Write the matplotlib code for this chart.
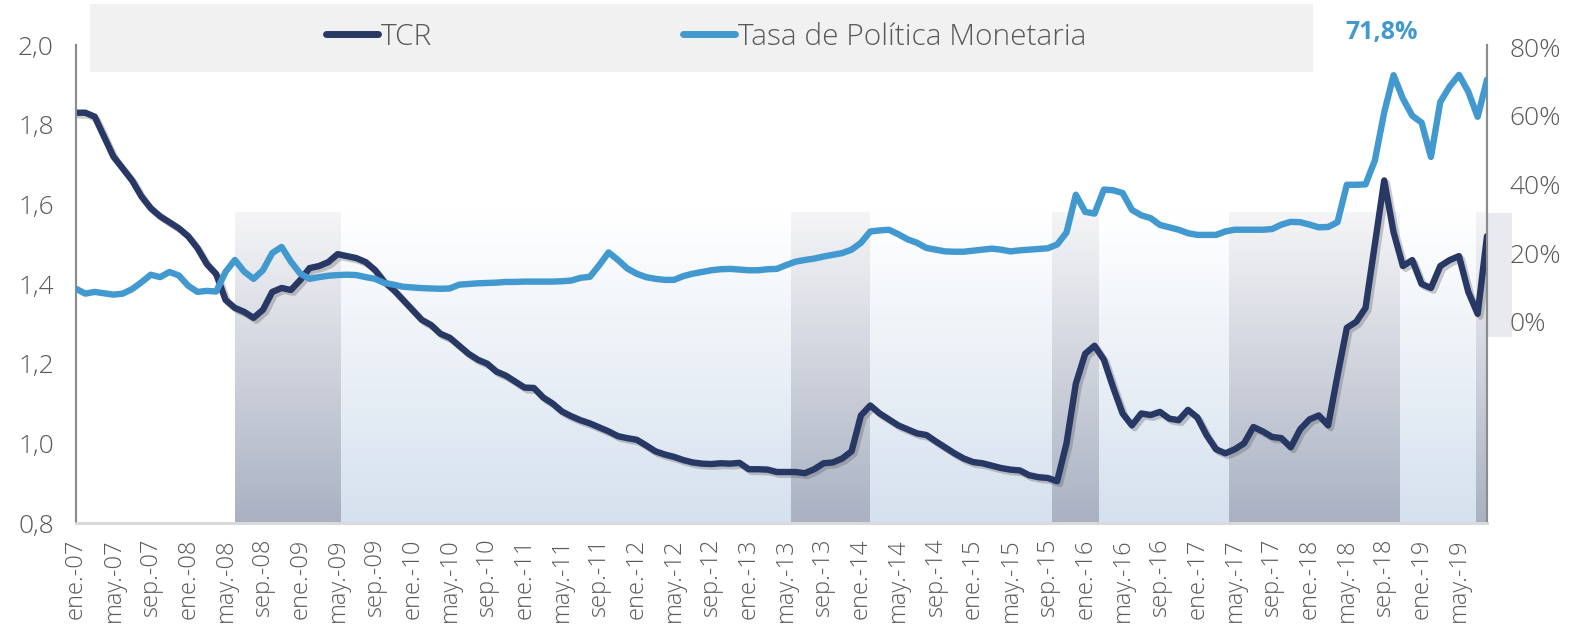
import numpy as np
import matplotlib
matplotlib.use("Agg")
import matplotlib.pyplot as plt
import matplotlib.patheffects as pe
from matplotlib.colors import LinearSegmentedColormap
from matplotlib.lines import Line2D
from matplotlib.patches import Rectangle

plt.rcParams['font.family'] = ['Open Sans', 'DejaVu Sans']
plt.rcParams['font.weight'] = 300

# Datos mensuales: ene-07 a ago-19 (índice de mes 0..151)
tcr = [1.83, 1.83, 1.82, 1.77, 1.72, 1.69, 1.66, 1.62, 1.59, 1.57,
       1.555, 1.54, 1.52, 1.49, 1.45, 1.425, 1.36, 1.34, 1.33, 1.315,
       1.335, 1.38, 1.39, 1.385, 1.41, 1.44, 1.445, 1.455, 1.475, 1.47,
       1.465, 1.455, 1.435, 1.405, 1.385, 1.36, 1.335, 1.31, 1.297, 1.275,
       1.265, 1.245, 1.225, 1.21, 1.2, 1.18, 1.17, 1.155, 1.14, 1.139,
       1.115, 1.1, 1.08, 1.068, 1.058, 1.05, 1.04, 1.03, 1.018, 1.013,
       1.009, 0.995, 0.98, 0.972, 0.966, 0.958, 0.952, 0.949, 0.948, 0.95,
       0.949, 0.951, 0.935, 0.935, 0.934, 0.928, 0.928, 0.928, 0.925, 0.935,
       0.95, 0.952, 0.962, 0.98, 1.07, 1.095, 1.075, 1.06, 1.045, 1.035,
       1.025, 1.021, 1.005, 0.99, 0.975, 0.962, 0.953, 0.95, 0.944, 0.938,
       0.934, 0.932, 0.92, 0.915, 0.913, 0.905, 1.0, 1.15, 1.225, 1.245,
       1.21, 1.14, 1.075, 1.045, 1.075, 1.071, 1.079, 1.062, 1.058, 1.084,
       1.065, 1.02, 0.985, 0.975, 0.985, 1.0, 1.041, 1.03, 1.016, 1.013,
       0.99, 1.035, 1.06, 1.07, 1.045, 1.17, 1.29, 1.305, 1.34, 1.5,
       1.66, 1.53, 1.445, 1.46, 1.40, 1.39, 1.445, 1.46, 1.47, 1.38,
       1.325, 1.52]

tpm = [9.6, 8.2, 8.7, 8.3, 7.9, 8.2, 9.5, 11.5, 13.7, 13.0,
       14.5, 13.5, 10.5, 8.7, 9.0, 8.8, 14.5, 18.0, 14.6, 12.5,
       15.0, 20.0, 21.8, 17.5, 14.0, 12.5, 13.0, 13.4, 13.6, 13.7,
       13.6, 13.0, 12.5, 11.3, 10.8, 10.2, 10.0, 9.8, 9.7, 9.6,
       9.7, 10.8, 11.0, 11.2, 11.3, 11.4, 11.6, 11.6, 11.7, 11.7,
       11.7, 11.7, 11.8, 12.0, 12.8, 13.1, 16.5, 20.2, 18.0, 15.5,
       14.0, 13.0, 12.5, 12.2, 12.2, 13.3, 14.0, 14.5, 15.0, 15.3,
       15.4, 15.2, 15.0, 15.0, 15.3, 15.4, 16.5, 17.5, 18.0, 18.4,
       19.0, 19.5, 20.0, 21.0, 23.0, 26.3, 26.6, 26.8, 25.5, 24.0,
       23.0, 21.5, 21.0, 20.5, 20.4, 20.4, 20.7, 21.0, 21.3, 21.0,
       20.5, 20.8, 21.0, 21.2, 21.4, 22.5, 26.0, 37.0, 32.0, 31.5,
       38.5, 38.3, 37.5, 32.6, 31.0, 30.2, 28.2, 27.5, 26.8, 25.8,
       25.3, 25.3, 25.3, 26.3, 26.8, 26.8, 26.8, 26.8, 27.0, 28.3,
       29.1, 29.0, 28.3, 27.5, 27.6, 29.0, 39.9, 39.9, 40.0, 47.0,
       61.0, 71.8, 65.0, 60.0, 58.0, 48.0, 64.0, 68.5, 71.9, 67.0,
       59.7, 70.5]

meses = np.arange(len(tcr))

# Períodos sombreados (en índice de mes)
bandas = [(17.0, 28.3), (76.5, 84.9), (104.4, 109.4), (123.4, 141.6), (149.8, 151.0)]

abrev = ['ene.', 'may.', 'sep.']
etiquetas = [f"{abrev[(m // 4) % 3]}-{7 + m // 12:02d}" for m in range(0, 152, 4)]

navy = '#273864'
azul = '#4299cf'
gris_txt = '#595959'

fig = plt.figure(figsize=(15.71, 6.34), dpi=100)
ax = fig.add_axes([76 / 1571, 1 - 523 / 634, (1487 - 76) / 1571, (523 - 45) / 634])
ax2 = ax.twinx()


def degradado(x0, x1, y0, y1, c_abajo, c_arriba):
    cmap = LinearSegmentedColormap.from_list('g', [c_abajo, c_arriba])
    ax.imshow(np.linspace(0, 1, 256).reshape(-1, 1), extent=[x0, x1, y0, y1],
              origin='lower', aspect='auto', cmap=cmap, zorder=0)


degradado(bandas[0][1], meses[-1], 0.8, 1.58, '#d5e1ee', '#ffffff')
for a, b in bandas:
    degradado(a, b, 0.8, 1.58, '#a9b1c2', '#f5f5f7')

ax.plot(meses, tcr, color=navy, lw=4.6, solid_capstyle='round', solid_joinstyle='round', zorder=3,
        path_effects=[pe.SimpleLineShadow(offset=(2, -2), shadow_color='#555555', alpha=0.3),
                      pe.Normal()])
ax2.plot(meses, tpm, color=azul, lw=4.6, solid_capstyle='round', solid_joinstyle='round', zorder=3)

ax.set_xlim(0, meses[-1])
ax.set_ylim(0.8, 2.0)
ax2.set_ylim(-58.6, 80.6)

ax.set_yticks(np.arange(0.8, 2.01, 0.2))
ax.set_yticklabels([f"{v:.1f}".replace('.', ',') for v in np.arange(0.8, 2.01, 0.2)])
ax2.set_yticks([0, 20, 40, 60, 80])
ax2.set_yticklabels([f"{v}%" for v in [0, 20, 40, 60, 80]])
ax.set_xticks(range(0, 152, 4))
ax.set_xticklabels(etiquetas, rotation=90)

ax.tick_params(axis='y', length=0, pad=16, labelsize=19, labelcolor=gris_txt)
ax.tick_params(axis='x', length=0, pad=11, labelsize=17, labelcolor=gris_txt)
ax2.tick_params(axis='y', length=0, pad=16, labelsize=19, labelcolor=gris_txt)

for a in (ax, ax2):
    a.spines['top'].set_visible(False)
    a.spines['left'].set_color('#8c8c8c')
    a.spines['right'].set_color('#8c8c8c')
    a.spines['left'].set_linewidth(1.5)
    a.spines['right'].set_linewidth(1.5)
    a.spines['bottom'].set_color('#d9d9d9')
    a.spines['bottom'].set_linewidth(2)
ax2.patch.set_visible(False)

# recuadro gris detrás de la etiqueta 0%
fig.add_artist(Rectangle((1475 / 1571, 1 - 337 / 634), 37 / 1571, 124 / 634,
                         transform=fig.transFigure, facecolor='#e9eaee',
                         edgecolor='none', zorder=-1))

# leyenda
fig.add_artist(Rectangle((90 / 1571, 1 - 72 / 634), (1313 - 90) / 1571, 68 / 634,
                         transform=fig.transFigure, facecolor='#f1f1f1',
                         edgecolor='none', zorder=1))
handles = [Line2D([], [], color=navy, lw=5, solid_capstyle='round'),
           Line2D([], [], color=azul, lw=5, solid_capstyle='round')]
leg = fig.legend(handles, ['TCR', 'Tasa de Política Monetaria'], loc='center',
                 bbox_to_anchor=(0.4494, 1 - 37 / 634), ncol=2, frameon=False,
                 fontsize=21.5, handlelength=1.75, handletextpad=0.1,
                 columnspacing=8.4, labelcolor=gris_txt)
leg.set_zorder(2)

ax2.annotate('71,8%', xy=(141, 71.8), xytext=(1382 / 1571, 1 - 33 / 634),
             textcoords='figure fraction', ha='center', va='center',
             fontsize=18, fontweight='bold', color=azul)

fig.savefig('out.png', dpi=100)
